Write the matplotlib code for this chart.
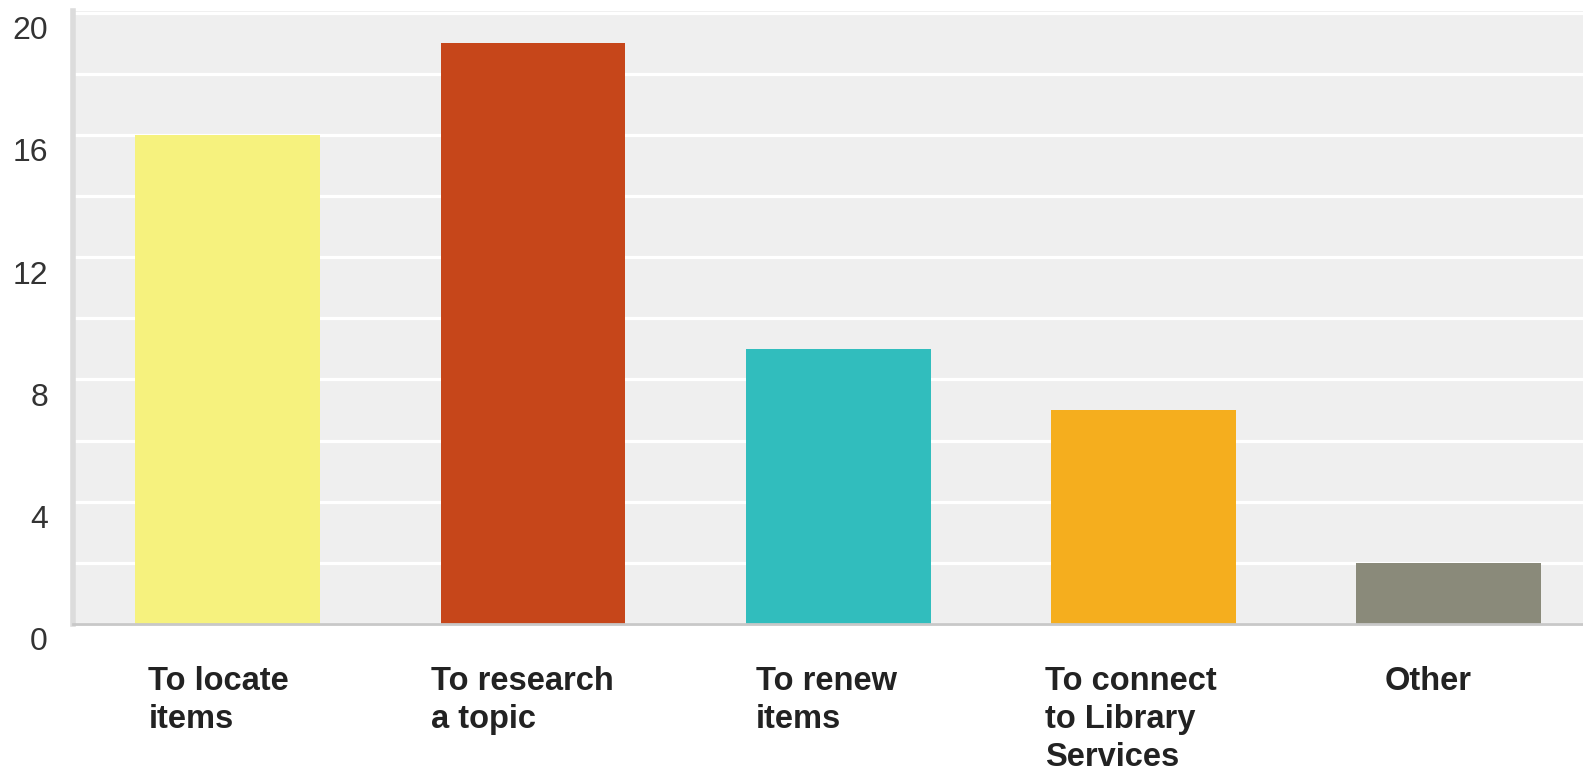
import matplotlib.pyplot as plt
from matplotlib.ticker import MultipleLocator
from matplotlib.transforms import ScaledTranslation

categories = ['To locate\nitems', 'To research\na topic', 'To renew\nitems',
              'To connect\nto Library\nServices', 'Other']
counts = [16, 19, 9, 7, 2]
colors = ['#f6f27e', '#c6461a', '#31bdbd', '#f5ae1e', '#8a8a7a']

plt.rcParams['font.family'] = ['Liberation Sans', 'DejaVu Sans']

fig = plt.figure(figsize=(15.83, 7.73), dpi=100)
ax = fig.add_axes([0.0461, 0.1928, 0.9539, 0.793])
ax.set_facecolor('#efefef')

x = range(len(categories))
ax.bar(x, counts, width=0.605, color=colors, zorder=3)

ax.set_xlim(-0.507, 4.44)
ax.set_ylim(0, 20.05)
ax.yaxis.set_major_locator(MultipleLocator(4))
ax.yaxis.set_minor_locator(MultipleLocator(2))
ax.grid(axis='y', which='both', color='white', linewidth=2.3, zorder=1)
ax.set_axisbelow(True)

for s in ['top', 'right']:
    ax.spines[s].set_visible(False)
ax.spines['left'].set_color('#dcdcdc')
ax.spines['left'].set_linewidth(4)
ax.spines['bottom'].set_color('#c8c8c8')
ax.spines['bottom'].set_linewidth(2)
ax.spines['bottom'].set_zorder(4)

ax.tick_params(axis='y', which='both', length=0, pad=18, labelsize=23, labelcolor='#333333')
ax.tick_params(axis='x', length=0, pad=30)
ax.set_xticks(list(x))
ax.set_xticklabels(categories, fontsize=23.5, fontweight='bold', color='#222222',
                   ha='center', ma='left', linespacing=1.3)

# shift labels a little like the original layout
label_dx = [-9, -11, -12, -13, -21]
for lab, dx in zip(ax.get_xticklabels(), label_dx):
    lab.set_transform(lab.get_transform() + ScaledTranslation(dx / 100, 0, fig.dpi_scale_trans))
for lab in ax.get_yticklabels():
    lab.set_transform(lab.get_transform() + ScaledTranslation(0, -15 / 100, fig.dpi_scale_trans))

fig.savefig('out.png', dpi=100)
